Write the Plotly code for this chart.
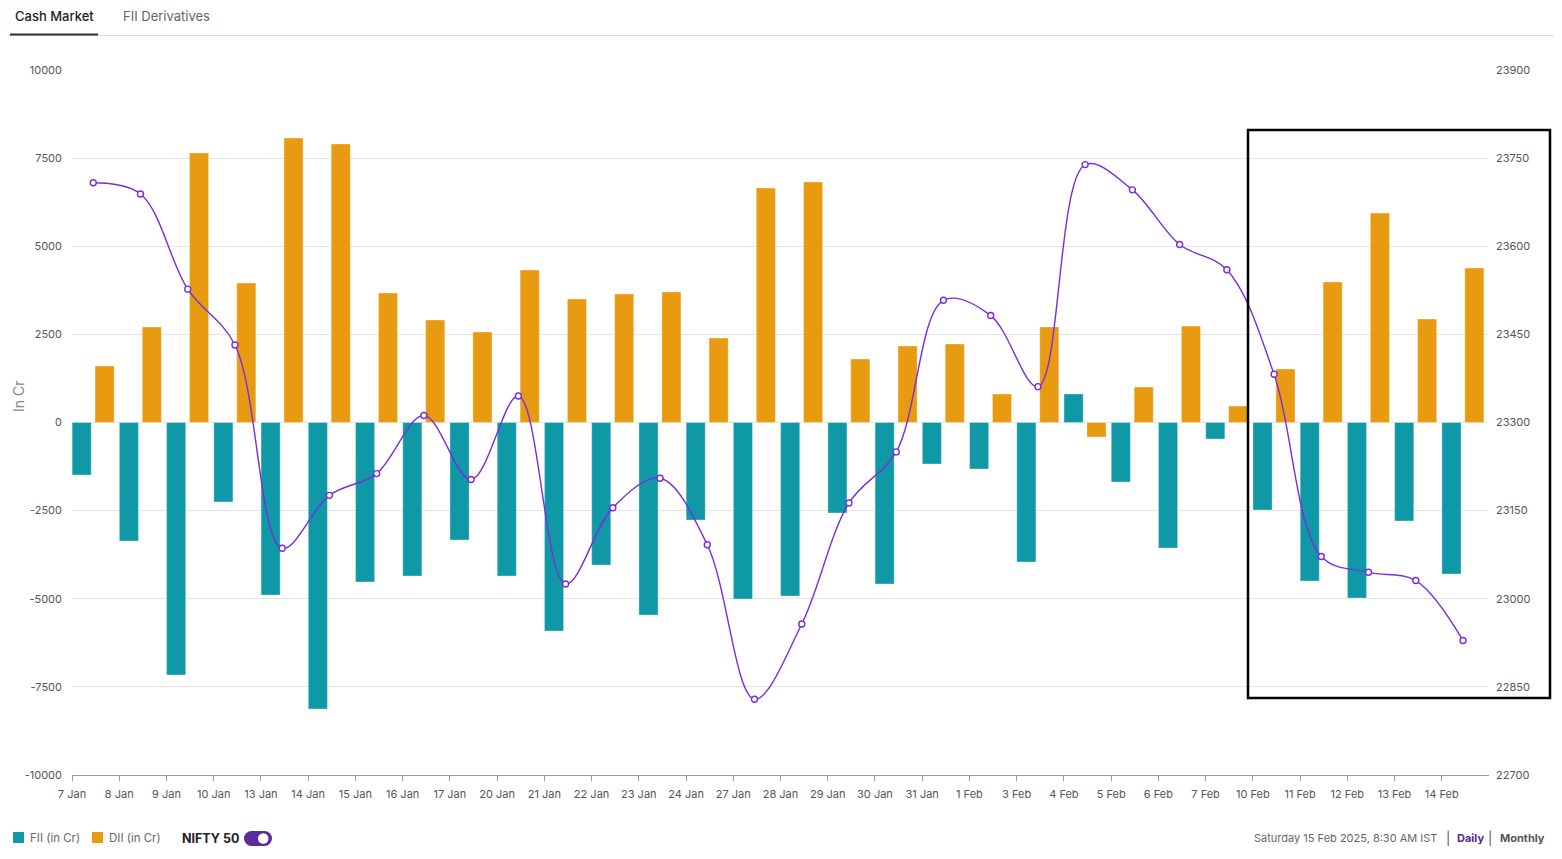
import plotly.graph_objects as go

dates = ["7 Jan", "8 Jan", "9 Jan", "10 Jan", "13 Jan", "14 Jan", "15 Jan", "16 Jan", "17 Jan",
         "20 Jan", "21 Jan", "22 Jan", "23 Jan", "24 Jan", "27 Jan", "28 Jan", "29 Jan", "30 Jan",
         "31 Jan", "1 Feb", "3 Feb", "4 Feb", "5 Feb", "6 Feb", "7 Feb", "10 Feb", "11 Feb",
         "12 Feb", "13 Feb", "14 Feb"]
fii = [-1490, -3362, -7163, -2255, -4894, -8128, -4525, -4355, -3333, -4355, -5915, -4043,
       -5461, -2766, -5007, -4922, -2567, -4582, -1177, -1319, -3957, 809, -1688, -3560,
       -468, -2482, -4496, -4979, -2794, -4298]
dii = [1603, 2709, 7645, 3957, 8071, 7901, 3674, 2908, 2567, 4326, 3504, 3645, 3702, 2397,
       6652, 6823, 1801, 2170, 2227, 809, 2709, -411, 1007, 2738, 468, 1518, 3986, 5943,
       2936, 4383]
nifty = [23708, 23689, 23527, 23432, 23086, 23176, 23213, 23312, 23203, 23345, 23025, 23155,
         23205, 23092, 22829, 22957, 23163, 23250, 23508, 23482, 23361, 23739, 23696, 23603,
         23560, 23382, 23072, 23045, 23031, 22929]
left_ticks = [-10000, -7500, -5000, -2500, 0, 2500, 5000, 7500, 10000]
left_labels = ["-10000", "-7500", "-5000", "-2500", "0", "2500", "5000", "7500", "10000"]
right_ticks = [22700, 22850, 23000, 23150, 23300, 23450, 23600, 23750, 23900]
right_labels = ["22700", "22850", "23000", "23150", "23300", "23450", "23600", "23750", "23900"]

# page body has an 8px margin, so the figure is placed at (8, 8)
OFF = 8
W, H = 1562 - OFF, 859 - OFF
L, R, T, B = 72 - OFF, 1489 - OFF, 70 - OFF, 775 - OFF
PW, PH = R - L, B - T


def px(x):
    return (x - OFF - L) / PW


def py(y):
    return (B - (y - OFF)) / PH


TEAL = "#0f99a6"
ORANGE = "#e89b10"
PURPLE = "#7a2ddc"
FONT = "Inter"

idx = list(range(len(dates)))
fig = go.Figure()
fig.add_trace(go.Bar(x=[i + 0.205 for i in idx], y=fii, width=0.405, name="FII (in Cr)",
                     marker=dict(color=TEAL, line=dict(color="rgba(255,255,255,0.35)", width=1)),
                     showlegend=False))
fig.add_trace(go.Bar(x=[i + 0.69 for i in idx], y=dii, width=0.405, name="DII (in Cr)",
                     marker=dict(color=ORANGE, line=dict(color="rgba(255,255,255,0.35)", width=1)),
                     showlegend=False))
fig.add_trace(go.Scatter(x=[i + 0.45 for i in idx], y=nifty, yaxis="y2", mode="lines+markers",
                         name="NIFTY 50", line=dict(color=PURPLE, width=1.4, shape="spline", smoothing=1.0),
                         marker=dict(size=6, color="white", line=dict(color=PURPLE, width=1.4)),
                         showlegend=False))

fig.update_layout(
    width=W, height=H,
    margin=dict(l=L, r=W - R, t=T, b=H - B, autoexpand=False),
    paper_bgcolor="white", plot_bgcolor="white",
    font=dict(family=FONT, size=11, color="#555"),
    barmode="overlay",
    xaxis=dict(range=[0, 30], tickmode="array", tickvals=idx, ticktext=dates,
               showgrid=False, zeroline=False, showline=True, linecolor="#999", linewidth=1,
               ticks="outside", ticklen=5, tickcolor="#999", tickfont=dict(size=11, color="#555"),
               ticklabelstandoff=4),
    yaxis=dict(range=[-10000, 10000], tickmode="array", tickvals=left_ticks, ticktext=left_labels,
               showgrid=True, gridcolor="#e4e4e4", gridwidth=1, zeroline=False, showline=False,
               tickfont=dict(size=11, color="#555"), ticklabelstandoff=9),
    yaxis2=dict(range=[22700, 23900], tickmode="array", tickvals=right_ticks, ticktext=right_labels,
                overlaying="y", side="right", showgrid=False, zeroline=False, showline=False,
                tickfont=dict(size=11, color="#555"), ticklabelstandoff=6),
)

TOG = "#5b2a9b"
shapes = [
    # highlight box
    dict(type="rect", xref="paper", yref="paper", x0=px(1248), x1=px(1550), y0=py(698), y1=py(130),
         line=dict(color="black", width=2.5), fillcolor="rgba(0,0,0,0)"),
    # tab separator
    dict(type="line", xref="paper", yref="paper", x0=px(0), x1=px(1562), y0=py(35.5), y1=py(35.5),
         line=dict(color="#d9d9d9", width=1)),
    dict(type="line", xref="paper", yref="paper", x0=px(10), x1=px(98), y0=py(34.5), y1=py(34.5),
         line=dict(color="#333", width=2)),
    # legend squares
    dict(type="rect", xref="paper", yref="paper", x0=px(13), x1=px(24), y0=py(843), y1=py(832),
         line=dict(width=0), fillcolor=TEAL),
    dict(type="rect", xref="paper", yref="paper", x0=px(92), x1=px(103), y0=py(843), y1=py(832),
         line=dict(width=0), fillcolor=ORANGE),
    # toggle pill
    dict(type="rect", xref="paper", yref="paper", x0=px(251.5), x1=px(264.5), y0=py(846), y1=py(831),
         line=dict(width=0), fillcolor=TOG),
    dict(type="circle", xref="paper", yref="paper", x0=px(244), x1=px(259), y0=py(846), y1=py(831),
         line=dict(width=0), fillcolor=TOG),
    dict(type="circle", xref="paper", yref="paper", x0=px(257), x1=px(272), y0=py(846), y1=py(831),
         line=dict(width=0), fillcolor=TOG),
    dict(type="circle", xref="paper", yref="paper", x0=px(258), x1=px(268.5), y0=py(843.7), y1=py(833.2),
         line=dict(width=0), fillcolor="white"),
]
fig.update_layout(shapes=shapes)

ann = [
    dict(text="Cash Market", x=px(13), y=py(16), xanchor="left", yanchor="middle",
         font=dict(size=13, color="#222", family=FONT, weight=500)),
    dict(text="FII Derivatives", x=px(121), y=py(16), xanchor="left", yanchor="middle",
         font=dict(size=13, color="#666", family=FONT)),
    dict(text="In Cr", x=px(18), y=py(397), xanchor="center", yanchor="middle", textangle=-90,
         font=dict(size=14, color="#888", family=FONT)),
    dict(text="FII (in Cr)", x=px(28), y=py(838), xanchor="left", yanchor="middle",
         font=dict(size=11.5, color="#666", family=FONT)),
    dict(text="DII (in Cr)", x=px(107), y=py(838), xanchor="left", yanchor="middle",
         font=dict(size=11.5, color="#666", family=FONT)),
    dict(text="<b>NIFTY 50</b>", x=px(180), y=py(838), xanchor="left", yanchor="middle",
         font=dict(size=12.5, color="#222", family=FONT)),
    dict(text="Saturday 15 Feb 2025, 8:30 AM IST", x=px(1439), y=py(838), xanchor="right", yanchor="middle",
         font=dict(size=11, color="#666", family=FONT)),
    dict(text="|", x=px(1447.5), y=py(838), xanchor="center", yanchor="middle",
         font=dict(size=13, color="#555", family=FONT)),
    dict(text="<b>Daily</b>", x=px(1455), y=py(838), xanchor="left", yanchor="middle",
         font=dict(size=11, color="#5a2a99", family=FONT)),
    dict(text="|", x=px(1490), y=py(838), xanchor="center", yanchor="middle",
         font=dict(size=13, color="#555", family=FONT)),
    dict(text="<b>Monthly</b>", x=px(1498), y=py(838), xanchor="left", yanchor="middle",
         font=dict(size=11, color="#555", family=FONT)),
]
for a in ann:
    a.update(xref="paper", yref="paper", showarrow=False)
fig.update_layout(annotations=ann)

fig.write_html("out.html")
